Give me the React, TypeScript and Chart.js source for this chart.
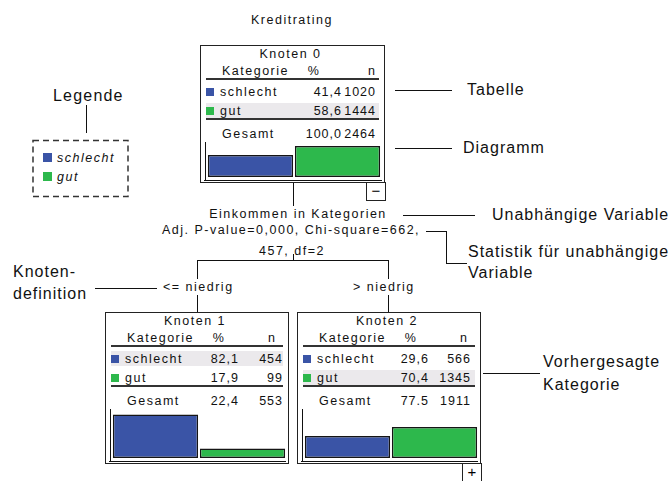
import { useEffect, useRef, CSSProperties } from 'react';
import { Chart, registerables } from 'chart.js';

Chart.register(...registerables);

// ---- data ----
const chartTitle = 'Kreditrating';
const categories = ['schlecht', 'gut'];
const nodeTitles = ['Knoten 0', 'Knoten 1', 'Knoten 2'];
const node0Pct = ['41,4', '58,6'];
const node0N = [1020, 1444];
const node1Pct = ['82,1', '17,9'];
const node1N = [454, 99];
const node2Pct = ['29,6', '70,4'];
const node2N = [566, 1345];
const totalPct = ['100,0', '22,4', '77.5'];
const totalN = [2464, 553, 1911];
const predicted = [1, 0, 1]; // highlighted row per node
// bar heights as drawn (percent scale)
const node0Bars = [41.4, 58.6];
const node1Bars = [82.1, 17.9];
const node2Bars = [41.5, 58.5];
const splitVariable = 'Einkommen in Kategorien';
const splitStats = ['Adj. P-value=0,000, Chi-square=662,', '457, df=2'];
const splitLabels = ['<= niedrig', '> niedrig'];

const BLUE = '#3a54a6';
const GREEN = '#2db84c';
const barColors = [BLUE, GREEN];
const FONT = '"Liberation Sans", Arial, sans-serif';
const BAR_H = 50;
const BAR_MAX = 94.3;

type Align = 'left' | 'center' | 'right';

function Txt({ x, y, text, align = 'left', size = 12.5, ls = 1.5, italic = false }: {
  x: number; y: number; text: string; align?: Align; size?: number; ls?: number; italic?: boolean;
}) {
  const style: CSSProperties = {
    position: 'absolute',
    top: y - 8,
    lineHeight: '16px',
    height: 16,
    fontSize: size,
    letterSpacing: ls,
    whiteSpace: 'nowrap',
    fontStyle: italic ? 'italic' : 'normal',
    color: '#111',
  };
  if (align === 'left') style.left = x;
  if (align === 'center') { style.left = x; style.transform = 'translateX(-50%)'; }
  if (align === 'right') { style.right = -x; style.marginRight = -ls; }
  return <div style={style}>{text}</div>;
}

function Right({ x, y, text, ls = 1 }: { x: number; y: number; text: string; ls?: number }) {
  // right aligned text: anchor box of zero width at x
  return (
    <div style={{ position: 'absolute', left: x, top: 0, width: 0 }}>
      <Txt x={0} y={y} text={text} align="right" ls={ls} />
    </div>
  );
}

function HLine({ x1, x2, y, w = 1, color = '#111' }: { x1: number; x2: number; y: number; w?: number; color?: string }) {
  return <div style={{ position: 'absolute', left: x1, top: y - w / 2, width: x2 - x1, height: w, background: color }} />;
}

function VLine({ x, y1, y2, w = 1, color = '#111' }: { x: number; y1: number; y2: number; w?: number; color?: string }) {
  return <div style={{ position: 'absolute', left: x - w / 2, top: y1, width: w, height: y2 - y1, background: color }} />;
}

function NodeBars({ values, left, top, width }: { values: number[]; left: number; top: number; width: number }) {
  const canvasRef = useRef<HTMLCanvasElement | null>(null);
  useEffect(() => {
    const chart = new Chart(canvasRef.current!, {
      type: 'bar',
      data: {
        labels: categories,
        datasets: [{
          data: values,
          backgroundColor: barColors,
          borderColor: '#151515',
          borderWidth: 1.5,
          borderSkipped: false,
          categoryPercentage: 1,
          barPercentage: 0.98,
        }],
      },
      options: {
        animation: false,
        responsive: true,
        maintainAspectRatio: false,
        events: [],
        layout: { padding: 0 },
        plugins: { legend: { display: false }, tooltip: { enabled: false } },
        scales: {
          x: { display: false },
          y: { display: false, min: 0, max: BAR_MAX },
        },
      },
    });
    return () => chart.destroy();
  }, [values]);
  return (
    <div style={{ position: 'absolute', left, top, width, height: BAR_H }}>
      <canvas ref={canvasRef} />
    </div>
  );
}

type NodeLayout = {
  left: number; top: number; width: number; height: number;
  pctRight: number; nRight: number; nHeadRight: number; toggle?: string;
};

const layouts: NodeLayout[] = [
  { left: 200, top: 45, width: 185, height: 138, pctRight: 141, nRight: 175, nHeadRight: 175, toggle: '−' },
  { left: 105, top: 312, width: 184, height: 152, pctRight: 133, nRight: 177, nHeadRight: 170 },
  { left: 297, top: 312, width: 184, height: 152, pctRight: 131, nRight: 173, nHeadRight: 170, toggle: '+' },
];

function TreeNode({ idx, pct, n, bars }: { idx: number; pct: string[]; n: number[]; bars: number[] }) {
  const L = layouts[idx];
  const rowY = [47, 66];
  return (
    <div style={{ position: 'absolute', left: L.left, top: L.top, width: L.width, height: L.height }}>
      <div style={{ position: 'absolute', inset: 0, border: '1px solid #222' }} />
      <Txt x={L.width / 2 - 2} y={9} text={nodeTitles[idx]} align="center" />
      <Txt x={22} y={26} text="Kategorie" />
      <Txt x={114} y={26} text="%" align="center" />
      <Right x={L.nHeadRight} y={26} text="n" />
      <HLine x1={6} x2={L.width - 6} y={34} w={2} color="#333" />
      {categories.map((c, i) => (
        <div key={c}>
          {predicted[idx] === i && (
            <div style={{ position: 'absolute', left: 6, top: rowY[i] - 8, width: L.width - 12, height: 15, background: '#ebe9ec' }} />
          )}
          <div style={{ position: 'absolute', left: 6, top: rowY[i] - 4, width: 8, height: 8, background: barColors[i] }} />
          <Txt x={20} y={rowY[i]} text={c} />
          <Right x={L.pctRight} y={rowY[i]} text={pct[i]} />
          <Right x={L.nRight} y={rowY[i]} text={String(n[i])} />
        </div>
      ))}
      <HLine x1={6} x2={L.width - 6} y={74} w={2} color="#333" />
      <Txt x={22} y={89} text="Gesamt" />
      <Right x={L.pctRight} y={89} text={totalPct[idx]} />
      <Right x={L.nRight} y={89} text={String(totalN[idx])} />
      <VLine x={5} y1={97} y2={L.height - 3} />
      <HLine x1={4} x2={L.width - 3} y={L.height - 3} />
      <NodeBars values={bars} left={7} top={L.height - 6 - BAR_H} width={174} />
      {L.toggle && (
        <div style={{
          position: 'absolute', left: L.width - 19, top: L.height - 1, width: 18, height: 17,
          border: '1px solid #222', lineHeight: '16px', textAlign: 'center', fontSize: 15, fontFamily: FONT,
        }}>{L.toggle}</div>
      )}
    </div>
  );
}

export default function App() {
  return (
    <div style={{
      position: 'absolute', left: 0, top: 0, width: 672, height: 481, background: '#fff',
      overflow: 'hidden', fontFamily: FONT,
    }}>
      <Txt x={292} y={20} text={chartTitle} align="center" />

      {/* legend */}
      <Txt x={53} y={96} text="Legende" size={16} ls={1.2} />
      <VLine x={86} y1={105} y2={133} />
      <svg width={672} height={481} style={{ position: 'absolute', left: 0, top: 0 }}>
        <rect x={33} y={140.5} width={95} height={56} fill="none" stroke="#333" strokeWidth={1.5} strokeDasharray="6 4" />
      </svg>
      {categories.map((c, i) => (
        <div key={c}>
          <div style={{ position: 'absolute', left: 43, top: 153 + i * 19, width: 9, height: 9, background: barColors[i] }} />
          <Txt x={57} y={158 + i * 19} text={c} italic />
        </div>
      ))}

      <TreeNode idx={0} pct={node0Pct} n={node0N} bars={node0Bars} />
      <TreeNode idx={1} pct={node1Pct} n={node1N} bars={node1Bars} />
      <TreeNode idx={2} pct={node2Pct} n={node2N} bars={node2Bars} />

      {/* tree connectors */}
      <VLine x={293} y1={183} y2={206} />
      <Txt x={298} y={214} text={splitVariable} align="center" />
      <Txt x={291} y={230} text={splitStats[0]} align="center" />
      <Txt x={292} y={251} text={splitStats[1]} align="center" />
      <VLine x={293} y1={254} y2={260} />
      <HLine x1={197} x2={389} y={260} />
      <VLine x={197} y1={260} y2={279} />
      <VLine x={197} y1={295} y2={312} />
      <VLine x={388} y1={260} y2={279} />
      <VLine x={388} y1={295} y2={312} />
      <Txt x={163} y={287} text={splitLabels[0]} />
      <Txt x={353} y={287} text={splitLabels[1]} />

      {/* annotations */}
      <HLine x1={395} x2={452} y={90} />
      <Txt x={467} y={90} text="Tabelle" size={16} ls={1} />
      <HLine x1={395} x2={452} y={148} />
      <Txt x={463} y={148} text="Diagramm" size={16} ls={1} />
      <HLine x1={403} x2={475} y={215} />
      <Txt x={492} y={215} text="Unabhängige Variable" size={16} ls={1} />
      <HLine x1={426} x2={446} y={231} />
      <VLine x={446} y1={231} y2={263} />
      <HLine x1={446} x2={467} y={263} />
      <Txt x={468} y={252} text="Statistik für unabhängige" size={16} ls={1} />
      <Txt x={468} y={273} text="Variable" size={16} ls={1} />
      <Txt x={13} y={272} text="Knoten-" size={16} ls={1} />
      <Txt x={13} y={294} text="definition" size={16} ls={1} />
      <HLine x1={95} x2={157} y={288} />
      <HLine x1={483} x2={540} y={373} />
      <Txt x={543} y={362} text="Vorhergesagte" size={16} ls={1} />
      <Txt x={543} y={385} text="Kategorie" size={16} ls={1} />
    </div>
  );
}
